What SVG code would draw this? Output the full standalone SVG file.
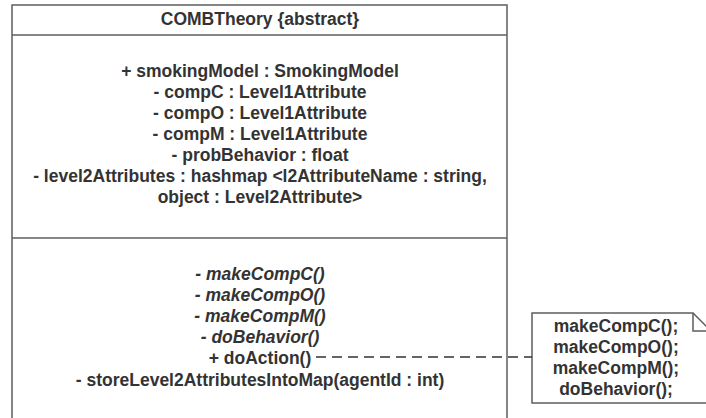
<svg xmlns="http://www.w3.org/2000/svg" width="706" height="418" viewBox="0 0 706 418">
  <style>
    .box { fill: #ffffff; stroke: #5e5e5e; stroke-width: 1.5; }
    .sep { stroke: #5e5e5e; stroke-width: 1.5; fill: none; }
    text { font-family: "Liberation Sans", Arial, sans-serif; font-size: 17.5px; font-weight: bold; fill: #333333; text-anchor: middle; }
    .it { font-style: italic; }
    .dash { stroke: #333333; stroke-width: 1.6; stroke-dasharray: 10 6; fill: none; }
  </style>
  <rect width="706" height="418" fill="#ffffff"/>

  <!-- class COMBTheory -->
  <g id="combtheory">
    <rect class="box" x="12" y="5" width="495" height="430"/>
    <line class="sep" x1="12" y1="35" x2="507" y2="35"/>
    <line class="sep" x1="12" y1="238" x2="507" y2="238"/>
    <text x="260" y="25">COMBTheory {abstract}</text>
    <text x="260" y="77">+ smokingModel : SmokingModel</text>
    <text x="260" y="98">- compC : Level1Attribute</text>
    <text x="260" y="119">- compO : Level1Attribute</text>
    <text x="260" y="140">- compM : Level1Attribute</text>
    <text x="260" y="161">- probBehavior : float</text>
    <text x="260" y="182">- level2Attributes : hashmap &lt;l2AttributeName : string,</text>
    <text x="260" y="203">object : Level2Attribute&gt;</text>
    <text class="it" x="260" y="280">- makeCompC()</text>
    <text class="it" x="260" y="301">- makeCompO()</text>
    <text class="it" x="260" y="322">- makeCompM()</text>
    <text class="it" x="260" y="343">- doBehavior()</text>
    <text x="260" y="364">+ doAction()</text>
    <text x="260" y="386">- storeLevel2AttributesIntoMap(agentId : int)</text>
  </g>

  <!-- note attached to doAction -->
  <g id="note">
    <path class="box" d="M532,313 H693 L712,332 V403 H532 Z"/>
    <path class="sep" d="M693,313 V331 H712"/>
    <text x="616" y="332">makeCompC();</text>
    <text x="616" y="353">makeCompO();</text>
    <text x="616" y="374">makeCompM();</text>
    <text x="616" y="395">doBehavior();</text>
  </g>

  <g id="connectors">
    <line class="dash" x1="316" y1="357" x2="532" y2="357"/>
  </g>
</svg>
